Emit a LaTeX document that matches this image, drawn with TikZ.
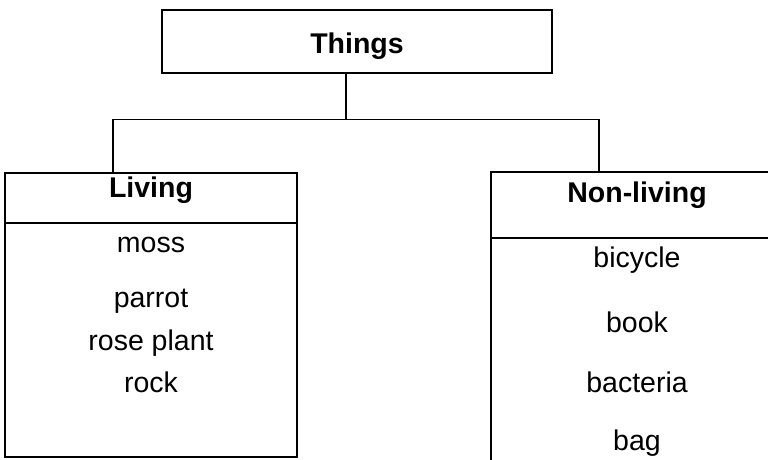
\documentclass[tikz,border=0pt]{standalone}
\usepackage{fontspec}
\setmainfont{Liberation Sans}
\begin{document}
\begin{tikzpicture}[x=1pt,y=-1pt,
  box/.style={draw=black,line width=1.3pt,rectangle,inner sep=0pt},
  lbl/.style={inner sep=0pt,text height=20.5pt,text depth=6pt,font=\fontsize{28.5}{34}\selectfont},
  head/.style={lbl,font=\fontsize{28.5}{34}\selectfont\bfseries},
  line/.style={draw=black,line width=1.2pt}]
\useasboundingbox (0,0) rectangle (768,459);
\clip (0,0) rectangle (768,459);
% boxes
\node[box,minimum width=390pt,minimum height=63pt] (things) at (357,41.5) {};
\node[head] (thingst) at (357,46) {Things};
\node[box,minimum width=292pt,minimum height=284pt] (living) at (151,315) {};
\node[box,minimum width=292pt,minimum height=300pt] (nonliving) at (637,322) {};
% header dividers
\draw[line] (living.west |- 0,223) -- (living.east |- 0,223);
\draw[line] (nonliving.west |- 0,238) -- (nonliving.east |- 0,238);
% headers
\node[head] (livh) at (151,190.5) {Living};
\node[head] (nonh) at (637,195) {Non-living};
% items
\node[lbl] (moss) at (151,245) {moss};
\node[lbl] (parrot) at (151,300) {parrot};
\node[lbl] (rose) at (151,343) {rose plant};
\node[lbl] (rock) at (151,385) {rock};
\node[lbl] (bicycle) at (637,260) {bicycle};
\node[lbl] (book) at (637,325) {book};
\node[lbl] (bacteria) at (637,385) {bacteria};
\node[lbl] (bag) at (637,443) {bag};
% connectors
\draw[line] ([xshift=-11pt]things.south) -- ++(0,46) coordinate (j);
\draw[line] ([xshift=-38pt]living.north) |- (j) -| ([xshift=-38pt]nonliving.north);
\end{tikzpicture}
\end{document}
